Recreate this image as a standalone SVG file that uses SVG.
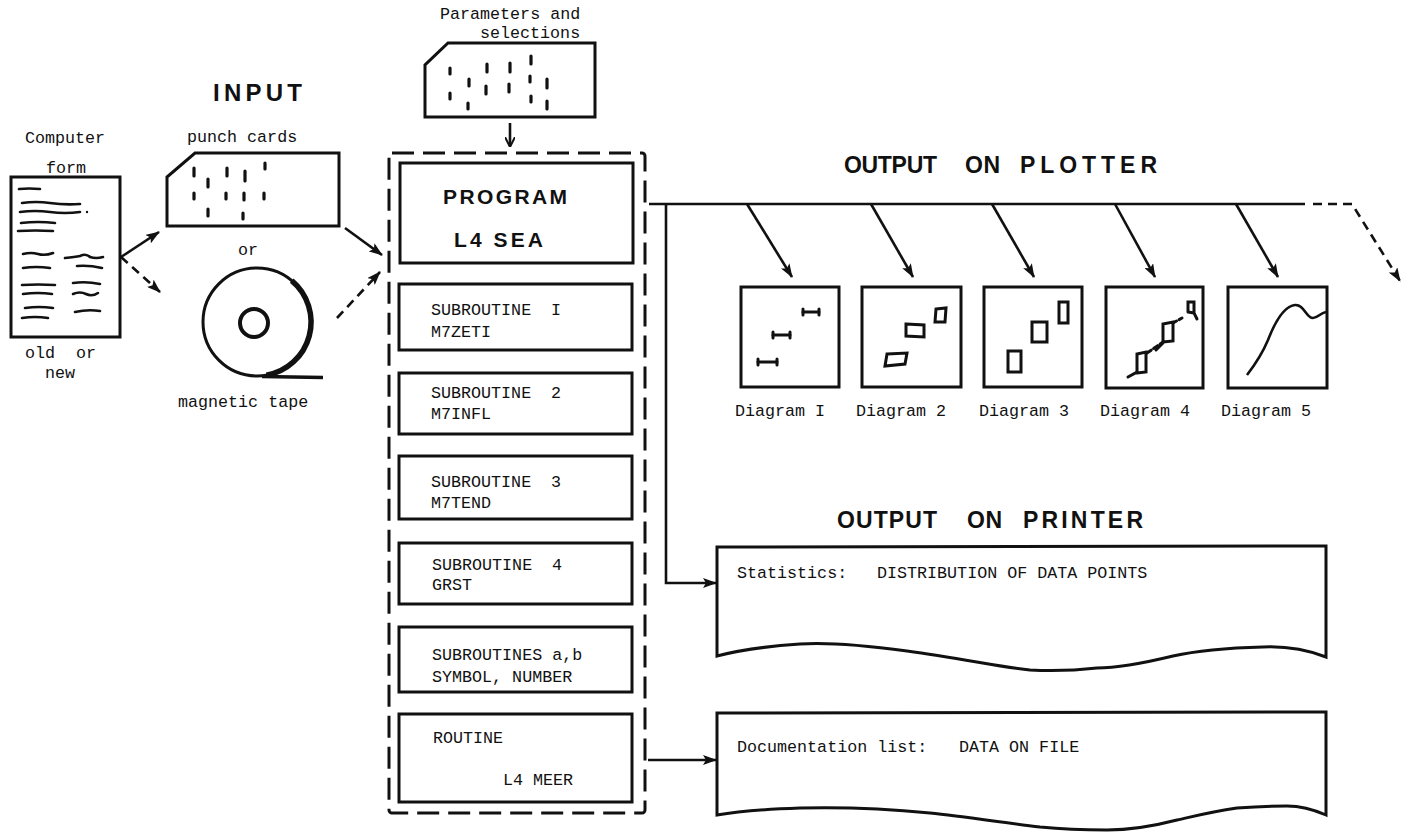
<svg xmlns="http://www.w3.org/2000/svg" width="1408" height="832" viewBox="0 0 1408 832">
<style>
.box{fill:none;stroke:#111;stroke-width:3}
.ln{fill:none;stroke:#111;stroke-width:2.6}
.th{fill:none;stroke:#111;stroke-width:3;stroke-linecap:round}
.sq{fill:none;stroke:#111;stroke-width:2.6;stroke-linecap:round}
.hole{stroke:#111;stroke-width:3.2;stroke-linecap:round}
.dash{fill:none;stroke:#111;stroke-width:3;stroke-dasharray:22 9}
.dsh{fill:none;stroke:#111;stroke-width:2.6;stroke-dasharray:9 6}
.t{font-family:"Liberation Mono","DejaVu Sans Mono",monospace;font-size:16.7px;fill:#111}
.h{font-family:"Liberation Sans",Arial,sans-serif;font-weight:bold;fill:#111}
</style>
<defs>
<marker id="ah" markerUnits="userSpaceOnUse" markerWidth="14" markerHeight="10" refX="13" refY="5" orient="auto">
<path d="M0,0 L14,5 L0,10 L3,5 z" fill="#111"/>
</marker>
<marker id="ahs" markerUnits="userSpaceOnUse" markerWidth="10" markerHeight="10" refX="9" refY="5" orient="auto">
<path d="M0,0 L10,5 L0,10" fill="none" stroke="#111" stroke-width="2"/>
</marker>
</defs>
<rect width="1408" height="832" fill="#fff"/>

<g id="headings">
<text class="h" x="213" y="101" font-size="24" textLength="89" lengthAdjust="spacing">INPUT</text>
<text class="h" x="844" y="173" font-size="23" textLength="93" lengthAdjust="spacing">OUTPUT</text>
<text class="h" x="965" y="173" font-size="23" textLength="35" lengthAdjust="spacing">ON</text>
<text class="h" x="1020" y="173" font-size="23" textLength="137" lengthAdjust="spacing">PLOTTER</text>
<text class="h" x="837" y="528" font-size="23" textLength="100" lengthAdjust="spacing">OUTPUT</text>
<text class="h" x="967" y="528" font-size="23" textLength="35" lengthAdjust="spacing">ON</text>
<text class="h" x="1023" y="528" font-size="23" textLength="120" lengthAdjust="spacing">PRINTER</text>
</g>

<g id="computer-form">
<text class="t" x="25" y="143">Computer</text>
<text class="t" x="46" y="173">form</text>
<rect class="box" x="11" y="177" width="109" height="160"/>
<path class="sq" d="M19,189 q10,-1 21,0"/>
<path class="sq" d="M22,203 q14,-2 28,0 t30,1"/>
<path class="sq" d="M20,212 q15,-2 30,0 t30,0"/>
<circle cx="87" cy="212" r="1.2" fill="#111"/>
<path class="sq" d="M21,223 q17,-2 34,0"/>
<path class="sq" d="M18,231 q17,-1 35,0"/>
<path class="sq" d="M23,254 q8,-2 15,0 t15,-1"/>
<path class="sq" d="M65,258 q10,-1 15,-2 q6,-3 10,1 q6,2 13,0"/>
<path class="sq" d="M23,268 q13,-2 27,0"/>
<path class="sq" d="M77,266 q12,-1 25,2"/>
<path class="sq" d="M22,285 q16,-1 33,0"/>
<path class="sq" d="M73,283 q13,-2 27,1"/>
<path class="sq" d="M23,294 q15,-2 29,0"/>
<path class="sq" d="M73,294 q7,-3 13,0 t12,-1"/>
<path class="sq" d="M25,308 q14,-2 28,0"/>
<path class="sq" d="M75,312 q13,-3 25,-1"/>
<path class="sq" d="M22,318 q13,-2 26,0"/>
<text class="t" y="358"><tspan x="25">old</tspan><tspan x="76">or</tspan></text>
<text class="t" x="45" y="378">new</text>
</g>

<g id="punch-cards">
<text class="t" x="187" y="142">punch cards</text>
<polygon class="box" points="195,153 339,153 339,226 167,226 167,177"/>
<g class="hole">
<line x1="194" y1="168" x2="194" y2="176"/>
<line x1="208" y1="179" x2="208" y2="187"/>
<line x1="227" y1="168" x2="227" y2="176"/>
<line x1="245" y1="171" x2="245" y2="181"/>
<line x1="265" y1="163" x2="265" y2="169"/>
<line x1="194" y1="193" x2="194" y2="199"/>
<line x1="226" y1="193" x2="226" y2="199"/>
<line x1="244" y1="193" x2="244" y2="200"/>
<line x1="264" y1="193" x2="264" y2="199"/>
<line x1="208" y1="209" x2="208" y2="216"/>
<line x1="243" y1="213" x2="243" y2="219"/>
</g>
<text class="t" x="238" y="255">or</text>
</g>

<g id="magnetic-tape">
<circle cx="257" cy="322" r="54" fill="none" stroke="#111" stroke-width="3"/>
<path d="M291.7,280.6 A54,54 0 0 1 266.4,375.2" fill="none" stroke="#111" stroke-width="5.5"/>
<circle cx="254" cy="323" r="14" fill="none" stroke="#111" stroke-width="4"/>
<line x1="262" y1="376.5" x2="323" y2="377.5" stroke="#111" stroke-width="3.5"/>
<text class="t" x="178" y="407">magnetic tape</text>
</g>

<g id="parameters-card">
<text class="t" x="440" y="19">Parameters and</text>
<text class="t" x="480" y="38">selections</text>
<polygon class="box" points="448,43 595,43 595,117 425,117 425,65"/>
<g class="hole">
<line x1="450" y1="68" x2="450" y2="74"/>
<line x1="450" y1="93" x2="450" y2="99"/>
<line x1="469" y1="79" x2="469" y2="86"/>
<line x1="468" y1="103" x2="468" y2="109"/>
<line x1="487" y1="64" x2="487" y2="72"/>
<line x1="486" y1="86" x2="486" y2="94"/>
<line x1="510" y1="63" x2="510" y2="72"/>
<line x1="509" y1="84" x2="509" y2="92"/>
<line x1="531" y1="56" x2="531" y2="64"/>
<line x1="530" y1="76" x2="530" y2="82"/>
<line x1="531" y1="96" x2="531" y2="102"/>
<line x1="547" y1="79" x2="547" y2="88"/>
<line x1="547" y1="101" x2="547" y2="109"/>
</g>
</g>

<g id="program-block">
<rect class="dash" x="389" y="153" width="256" height="660" rx="3"/>
</g>
<g id="program-l4sea">
<rect class="box" x="400" y="163" width="233" height="100"/>
<text class="h" x="443" y="204" font-size="21" textLength="124" lengthAdjust="spacing">PROGRAM</text>
<text class="h" x="454" y="247" font-size="21" textLength="89" lengthAdjust="spacing">L4 SEA</text>
</g>
<g id="sub1">
<rect class="box" x="399" y="284" width="233" height="66"/>
<text class="t" y="315"><tspan x="431">SUBROUTINE</tspan><tspan x="551">I</tspan></text>
<text class="t" x="431" y="337">M7ZETI</text>
</g>
<g id="sub2">
<rect class="box" x="399" y="373" width="233" height="61"/>
<text class="t" y="398"><tspan x="431">SUBROUTINE</tspan><tspan x="551">2</tspan></text>
<text class="t" x="431" y="419">M7INFL</text>
</g>
<g id="sub3">
<rect class="box" x="399" y="456" width="233" height="63"/>
<text class="t" y="487"><tspan x="431">SUBROUTINE</tspan><tspan x="551">3</tspan></text>
<text class="t" x="431" y="508">M7TEND</text>
</g>
<g id="sub4">
<rect class="box" x="399" y="543" width="233" height="61"/>
<text class="t" y="570"><tspan x="432">SUBROUTINE</tspan><tspan x="552">4</tspan></text>
<text class="t" x="432" y="590">GRST</text>
</g>
<g id="sub-ab">
<rect class="box" x="399" y="627" width="233" height="65"/>
<text class="t" x="432" y="660">SUBROUTINES a,b</text>
<text class="t" x="432" y="682">SYMBOL, NUMBER</text>
</g>
<g id="routine">
<rect class="box" x="399" y="714" width="233" height="88"/>
<text class="t" x="433" y="743">ROUTINE</text>
<text class="t" x="503" y="785">L4 MEER</text>
</g>

<g id="diagram1">
<rect class="box" x="741" y="287" width="98" height="100"/>
<g class="th">
<line x1="803" y1="312" x2="819" y2="312"/><line x1="803" y1="309" x2="803" y2="315"/><line x1="819" y1="309" x2="819" y2="315"/>
<line x1="773" y1="335" x2="790" y2="335"/><line x1="773" y1="332" x2="773" y2="338"/><line x1="790" y1="332" x2="790" y2="338"/>
<line x1="758" y1="362" x2="777" y2="362"/><line x1="758" y1="359" x2="758" y2="365"/><line x1="777" y1="359" x2="777" y2="365"/>
</g>
<text class="t" x="735" y="416">Diagram I</text>
</g>
<g id="diagram2">
<rect class="box" x="862" y="287" width="99" height="100"/>
<g class="th">
<polygon points="936,309 946,308 945,322 935,322"/>
<polygon points="906,324 924,325 924,337 906,336"/>
<polygon points="887,354 907,353 905,364 885,366"/>
</g>
<text class="t" x="856" y="416">Diagram 2</text>
</g>
<g id="diagram3">
<rect class="box" x="984" y="287" width="98" height="100"/>
<g class="th">
<rect x="1059" y="302" width="9" height="21"/>
<rect x="1032" y="322" width="15" height="20"/>
<rect x="1008" y="351" width="13" height="21"/>
</g>
<text class="t" x="979" y="416">Diagram 3</text>
</g>
<g id="diagram4">
<rect class="box" x="1106" y="287" width="97" height="101"/>
<g class="th">
<path d="M1128,377 L1137,372 L1137,354 L1146,352 L1146,372 L1137,373"/>
<path d="M1147,353 L1163,342" stroke-dasharray="5 3"/>
<path d="M1156,350 L1163,343 L1163,324 L1173,322 L1173,341 L1163,342"/>
<path d="M1173,323 L1182,318" stroke-dasharray="4 3"/>
<path d="M1188,312 L1188,302 L1194,302 L1194,313 L1197,319 M1188,312 L1194,313"/>
</g>
<text class="t" x="1100" y="416">Diagram 4</text>
</g>
<g id="diagram5">
<rect class="box" x="1228" y="287" width="99" height="101"/>
<path class="ln" d="M1247,375 C1257,362 1263,352 1268,340 C1275,322 1284,306 1295,305 C1304,304 1306,318 1313,318 C1318,318 1320,313 1326,312"/>
<text class="t" x="1221" y="416">Diagram 5</text>
</g>

<g id="statistics">
<path class="box" d="M717,547 L1326,546 L1326,657 C1305,649 1285,646 1263,647 C1225,648 1200,650 1173,656 C1140,664 1115,668 1097,668 C1070,671 1050,671 1030,670 C1000,667 960,658 907,651 C870,646 830,642 800,644 C770,646 740,650 717,656 Z"/>
<text class="t" x="737" y="578">Statistics:</text>
<text class="t" x="877" y="578">DISTRIBUTION OF DATA POINTS</text>
</g>
<g id="documentation">
<path class="box" d="M717,713 L1326,712 L1326,815 C1310,808 1300,806 1287,806 C1265,806 1250,807 1237,808 C1210,812 1195,816 1177,820 C1150,827 1130,830 1107,830 C1085,830 1060,829 1040,827 C1000,822 960,816 930,813 C890,809 840,807 800,808 C770,809 740,811 717,815 Z"/>
<text class="t" x="737" y="752">Documentation list:</text>
<text class="t" x="959" y="752">DATA ON FILE</text>
</g>

<g id="connectors">
<line class="ln" x1="121" y1="257" x2="159" y2="232" marker-end="url(#ah)"/>
<line class="dsh" x1="121" y1="257" x2="160" y2="292" marker-end="url(#ah)"/>
<line class="ln" x1="345" y1="228" x2="382" y2="255" marker-end="url(#ah)"/>
<line class="dsh" x1="337" y1="318" x2="380" y2="272" marker-end="url(#ah)"/>
<line class="ln" x1="510" y1="123" x2="510" y2="146" stroke-width="2" marker-end="url(#ahs)"/>
<line class="ln" x1="649" y1="204" x2="1305" y2="204"/>
<path class="dsh" d="M1313,204 L1352,204 L1400,281" stroke-dasharray="28 10" marker-end="url(#ah)"/>
<line class="ln" x1="747" y1="204" x2="792" y2="277" marker-end="url(#ah)"/>
<line class="ln" x1="871" y1="204" x2="913" y2="277" marker-end="url(#ah)"/>
<line class="ln" x1="992" y1="204" x2="1034" y2="277" marker-end="url(#ah)"/>
<line class="ln" x1="1115" y1="204" x2="1155" y2="277" marker-end="url(#ah)"/>
<line class="ln" x1="1236" y1="204" x2="1278" y2="277" marker-end="url(#ah)"/>
<path class="ln" d="M666,204 L666,583 L716,583" marker-end="url(#ah)"/>
<line class="ln" x1="648" y1="760" x2="716" y2="760" marker-end="url(#ah)"/>
</g>
</svg>
